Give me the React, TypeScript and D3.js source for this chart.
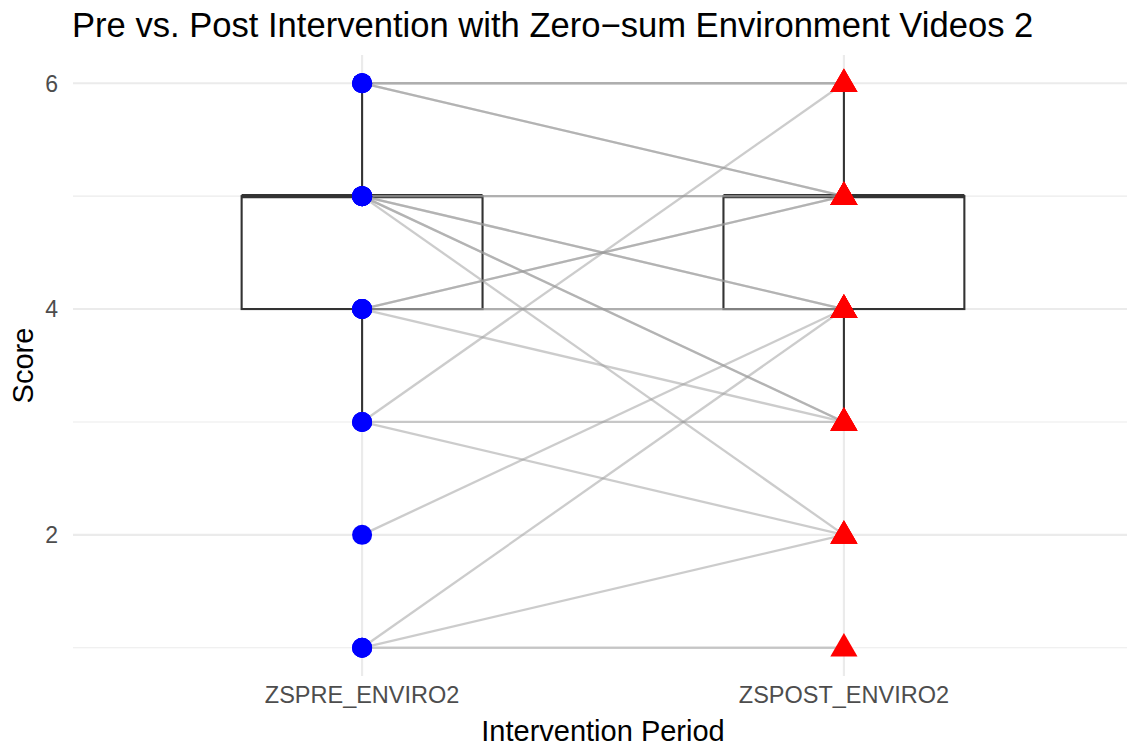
import React from "react";
import * as d3 from "d3";

// ---- data ----
const categories = ["ZSPRE_ENVIRO2", "ZSPOST_ENVIRO2"];
const preScores = [6, 6, 6, 6, 5, 5, 5, 5, 5, 5, 5, 4, 4, 4, 4, 4, 3, 3, 3, 2, 1, 1, 1];
const postScores = [6, 6, 5, 5, 5, 5, 4, 4, 3, 3, 2, 5, 5, 4, 4, 3, 6, 3, 2, 4, 4, 2, 1];
// boxplot statistics (pre, post)
const boxQ1 = [4, 4];
const boxMedian = [5, 5];
const boxQ3 = [5, 5];
const whiskerLow = [3, 3];
const whiskerHigh = [6, 6];
const yTicksMajor = [2, 4, 6];
const yTicksMinor = [1, 3, 5];

const W = 1127;
const H = 747;
const FONT = "'Liberation Sans', Arial, Helvetica, sans-serif";

export default function App() {
  const panel = { left: 73, right: 1133, top: 55, bottom: 676 };
  const x = d3.scaleLinear().domain([0.4, 2.6]).range([panel.left, panel.right]);
  const y = d3.scaleLinear().domain([0.75, 6.25]).range([panel.bottom, panel.top]);
  const boxHalf = 0.25;

  const tri = d3.symbol().type(d3.symbolTriangle).size(320)();

  return (
    <svg width={W} height={H} style={{ position: "absolute", left: 0, top: 0, background: "#fff" }} fontFamily={FONT}>
      {/* grid */}
      {yTicksMinor.map((t) => (
        <line key={"mi" + t} x1={panel.left} x2={panel.right} y1={y(t)} y2={y(t)} stroke="#ebebeb" strokeWidth={1.1} />
      ))}
      {yTicksMajor.map((t) => (
        <line key={"ma" + t} x1={panel.left} x2={panel.right} y1={y(t)} y2={y(t)} stroke="#ebebeb" strokeWidth={2.1} />
      ))}
      {categories.map((c, i) => (
        <line key={"vx" + c} x1={x(i + 1)} x2={x(i + 1)} y1={panel.top} y2={panel.bottom} stroke="#ebebeb" strokeWidth={2.1} />
      ))}

      {/* boxplots */}
      {categories.map((c, i) => {
        const cx = x(i + 1);
        const x0 = x(i + 1 - boxHalf);
        const x1 = x(i + 1 + boxHalf);
        return (
          <g key={"box" + c} stroke="#333333" fill="none">
            <line x1={cx} x2={cx} y1={y(boxQ3[i])} y2={y(whiskerHigh[i])} strokeWidth={2.1} />
            <line x1={cx} x2={cx} y1={y(boxQ1[i])} y2={y(whiskerLow[i])} strokeWidth={2.1} />
            <rect x={x0} y={y(boxQ3[i])} width={x1 - x0} height={y(boxQ1[i]) - y(boxQ3[i])} fill="#fff" strokeWidth={2.1} />
            <line x1={x0} x2={x1} y1={y(boxMedian[i])} y2={y(boxMedian[i])} strokeWidth={4.2} />
          </g>
        );
      })}

      {/* paired lines */}
      {preScores.map((p, k) => (
        <line
          key={"pl" + k}
          x1={x(1)}
          x2={x(2)}
          y1={y(p)}
          y2={y(postScores[k])}
          stroke="#999999"
          strokeOpacity={0.5}
          strokeWidth={2.3}
        />
      ))}

      {/* points */}
      {preScores.map((p, k) => (
        <circle key={"pc" + k} cx={x(1)} cy={y(p)} r={10} fill="#0000ff" />
      ))}
      {postScores.map((p, k) => (
        <path key={"pt" + k} d={tri as string} transform={`translate(${x(2)},${y(p) + 1})`} fill="#ff0000" />
      ))}

      {/* y axis labels */}
      {yTicksMajor.map((t) => (
        <text key={"yl" + t} x={58} y={y(t)} dy="0.36em" textAnchor="end" fontSize={23} fill="#4d4d4d">
          {t}
        </text>
      ))}
      {/* x axis labels */}
      {categories.map((c, i) => (
        <text key={"xl" + c} x={x(i + 1)} y={703} textAnchor="middle" fontSize={23.5} fill="#4d4d4d">
          {c}
        </text>
      ))}

      {/* titles */}
      <text x={603} y={741} textAnchor="middle" fontSize={29} fill="#000">
        Intervention Period
      </text>
      <text transform={`translate(33,${(panel.top + panel.bottom) / 2}) rotate(-90)`} textAnchor="middle" fontSize={29} fill="#000">
        Score
      </text>
      <text x={72} y={37} fontSize={34.6} fill="#000">
        Pre vs. Post Intervention with Zero−sum Environment Videos 2
      </text>
    </svg>
  );
}
